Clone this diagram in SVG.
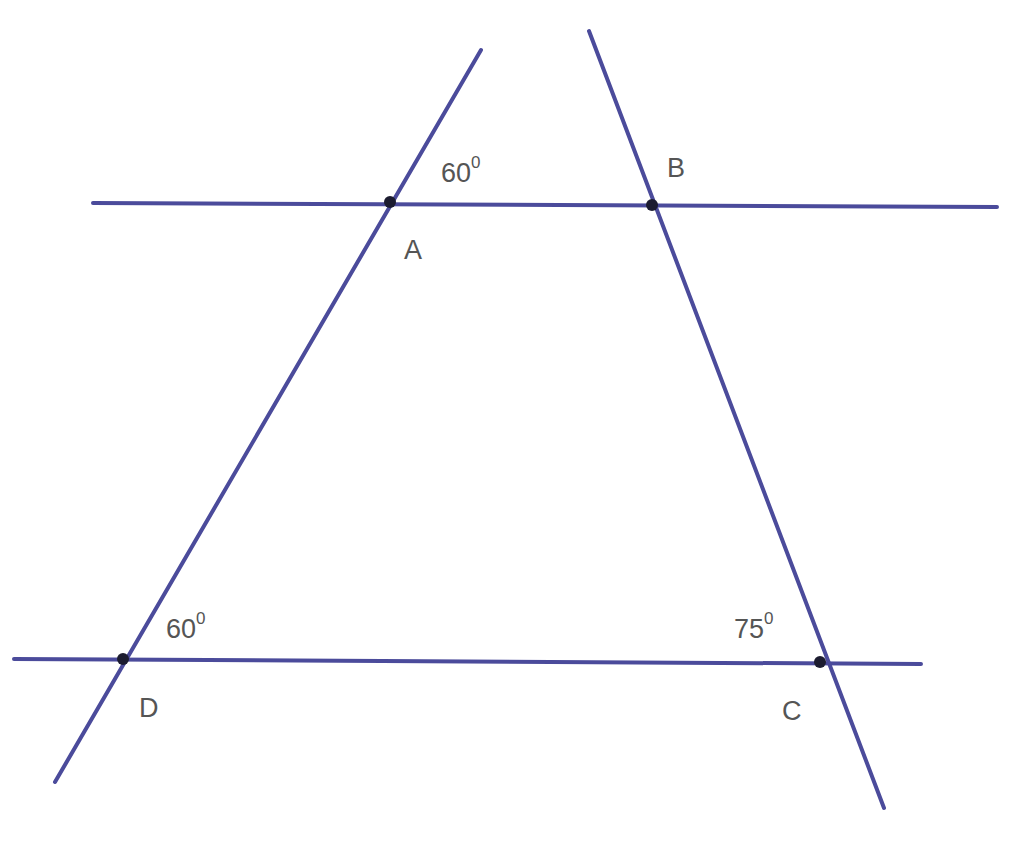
<svg xmlns="http://www.w3.org/2000/svg" width="1024" height="849" viewBox="0 0 1024 849">
<style>
.ln{stroke:#4b4b9b;stroke-width:4;fill:none;stroke-linecap:round}
.pt{fill:#1c1c30}
.lb{font-family:"Liberation Sans",Arial,sans-serif;font-size:27px;fill:#555}
.sp{font-size:17px}
</style>
<rect width="1024" height="849" fill="#fff"/>
<g id="connectors">
<line class="ln" x1="93" y1="203" x2="997" y2="207"/>
<line class="ln" x1="14" y1="659" x2="921" y2="664"/>
<line class="ln" x1="481" y1="50" x2="55" y2="782"/>
<line class="ln" x1="589" y1="31" x2="884" y2="808"/>
</g>
<g id="A"><circle class="pt" cx="390" cy="202" r="6"/><text class="lb" x="404" y="259">A</text></g>
<g id="B"><circle class="pt" cx="652" cy="205" r="6"/><text class="lb" x="667" y="177">B</text></g>
<g id="D"><circle class="pt" cx="123" cy="659" r="6"/><text class="lb" x="139" y="717">D</text></g>
<g id="C"><circle class="pt" cx="820" cy="662" r="6"/><text class="lb" x="782" y="720">C</text></g>
<g id="angleA"><text class="lb" x="441" y="182">60<tspan class="sp" dy="-14">0</tspan></text></g>
<g id="angleD"><text class="lb" x="166" y="638">60<tspan class="sp" dy="-14">0</tspan></text></g>
<g id="angleC"><text class="lb" x="734" y="638">75<tspan class="sp" dy="-14">0</tspan></text></g>
</svg>
